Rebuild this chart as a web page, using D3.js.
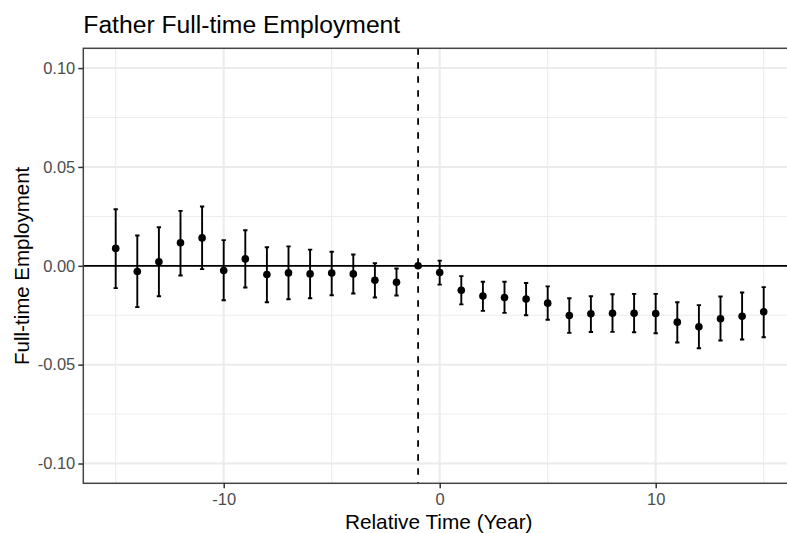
<!DOCTYPE html>
<html>
<head>
<meta charset="utf-8">
<script src="https://cdn.jsdelivr.net/npm/d3@7"></script>
<style>
  html, body { margin: 0; padding: 0; background: #fff; }
  svg { display: block; font-family: "Liberation Sans", Arial, sans-serif; }
</style>
</head>
<body>
<svg id="chart" width="787" height="533"></svg>
<script>
// ---- Data ----
const relTime = [-15,-14,-13,-12,-11,-10,-9,-8,-7,-6,-5,-4,-3,-2,-1,0,1,2,3,4,5,6,7,8,9,10,11,12,13,14,15];
const estimate = [0.0088,-0.0029,0.0020,0.0116,0.0141,-0.0024,0.0035,-0.0044,-0.0036,-0.0041,-0.0037,-0.0041,-0.0073,-0.0083,0,
                  -0.0034,-0.0124,-0.0153,-0.0160,-0.0168,-0.0189,-0.0251,-0.0243,-0.0240,-0.0240,-0.0241,-0.0285,-0.0308,-0.0268,-0.0255,-0.0233];
const ciLow = [-0.0113,-0.0209,-0.0154,-0.0049,-0.0017,-0.0174,-0.0110,-0.0184,-0.0169,-0.0164,-0.0149,-0.0140,-0.0160,-0.0150,0,
               -0.0095,-0.0195,-0.0228,-0.0238,-0.0250,-0.0273,-0.0339,-0.0335,-0.0334,-0.0336,-0.0341,-0.0388,-0.0417,-0.0378,-0.0373,-0.0361];
const ciHigh = [0.0286,0.0153,0.0195,0.0278,0.0300,0.0130,0.0180,0.0094,0.0098,0.0082,0.0071,0.0057,0.0013,-0.0014,0,
                0.0026,-0.0052,-0.0081,-0.0081,-0.0087,-0.0104,-0.0164,-0.0154,-0.0144,-0.0142,-0.0142,-0.0184,-0.0199,-0.0155,-0.0135,-0.0108];
const xMajorTicks = [-10, 0, 10];
const xMinorTicks = [-15, -5, 5, 15];
const yMajorTicks = [-0.10, -0.05, 0.00, 0.05, 0.10];
const yMinorTicks = [-0.075, -0.025, 0.025, 0.075];
const eventLine = -1;
const titleText = "Father Full-time Employment";
const xTitle = "Relative Time (Year)";
const yTitle = "Full-time Employment";

const data = relTime.map((t, i) => ({t, est: estimate[i], lo: ciLow[i], hi: ciHigh[i]}));

// ---- Layout ----
const svg = d3.select("#chart");
const panel = {left: 83.3, right: 796.1, top: 48.3, bottom: 483.3};

const x = d3.scaleLinear().domain([-16.5, 16.5]).range([panel.left, panel.right]);
const y = d3.scaleLinear().domain([-0.11, 0.11]).range([panel.bottom, panel.top]);

svg.append("rect").attr("width", 787).attr("height", 533).attr("fill", "#fff");

const clipId = "panelClip";
svg.append("defs").append("clipPath").attr("id", clipId)
  .append("rect").attr("x", panel.left).attr("y", panel.top)
  .attr("width", panel.right - panel.left).attr("height", panel.bottom - panel.top);

const g = svg.append("g").attr("clip-path", `url(#${clipId})`);

// Grid lines
g.selectAll(".xminor").data(xMinorTicks).join("line")
  .attr("x1", d => x(d)).attr("x2", d => x(d)).attr("y1", panel.top).attr("y2", panel.bottom)
  .attr("stroke", "#EBEBEB").attr("stroke-width", 1);
g.selectAll(".yminor").data(yMinorTicks).join("line")
  .attr("y1", d => y(d)).attr("y2", d => y(d)).attr("x1", panel.left).attr("x2", panel.right)
  .attr("stroke", "#EBEBEB").attr("stroke-width", 1);
g.selectAll(".xmajor").data(xMajorTicks).join("line")
  .attr("x1", d => x(d)).attr("x2", d => x(d)).attr("y1", panel.top).attr("y2", panel.bottom)
  .attr("stroke", "#EBEBEB").attr("stroke-width", 2);
g.selectAll(".ymajor").data(yMajorTicks).join("line")
  .attr("y1", d => y(d)).attr("y2", d => y(d)).attr("x1", panel.left).attr("x2", panel.right)
  .attr("stroke", "#EBEBEB").attr("stroke-width", 2);

// Reference lines
g.append("line")
  .attr("x1", panel.left).attr("x2", panel.right).attr("y1", y(0)).attr("y2", y(0))
  .attr("stroke", "#000").attr("stroke-width", 1.7);
g.append("line")
  .attr("x1", x(eventLine)).attr("x2", x(eventLine)).attr("y1", panel.top).attr("y2", panel.bottom)
  .attr("stroke", "#000").attr("stroke-width", 1.8).attr("stroke-dasharray", "6.5,7.5");

// Error bars
const capW = 0.1;
const eb = g.selectAll(".eb").data(data.filter(d => d.hi !== d.lo)).join("g");
eb.append("line")
  .attr("x1", d => x(d.t)).attr("x2", d => x(d.t))
  .attr("y1", d => y(d.lo)).attr("y2", d => y(d.hi))
  .attr("stroke", "#000").attr("stroke-width", 1.9);
eb.append("line")
  .attr("x1", d => x(d.t - capW)).attr("x2", d => x(d.t + capW))
  .attr("y1", d => y(d.lo)).attr("y2", d => y(d.lo))
  .attr("stroke", "#000").attr("stroke-width", 1.9);
eb.append("line")
  .attr("x1", d => x(d.t - capW)).attr("x2", d => x(d.t + capW))
  .attr("y1", d => y(d.hi)).attr("y2", d => y(d.hi))
  .attr("stroke", "#000").attr("stroke-width", 1.9);

// Points
g.selectAll(".pt").data(data).join("circle")
  .attr("cx", d => x(d.t)).attr("cy", d => y(d.est)).attr("r", 3.8).attr("fill", "#000");

// Panel border
svg.append("rect")
  .attr("x", panel.left).attr("y", panel.top)
  .attr("width", panel.right - panel.left).attr("height", panel.bottom - panel.top)
  .attr("fill", "none").attr("stroke", "#444").attr("stroke-width", 1.5);

// Axes
const hyphen = s => s.replace(/\u2212/g, "-");
const xAxis = svg.append("g").attr("transform", `translate(0,${panel.bottom})`)
  .call(d3.axisBottom(x).tickValues(xMajorTicks).tickSize(5).tickPadding(5)
    .tickFormat(d => hyphen(d3.format("d")(d))));
const yAxis = svg.append("g").attr("transform", `translate(${panel.left},0)`)
  .call(d3.axisLeft(y).tickValues(yMajorTicks).tickSize(5).tickPadding(3)
    .tickFormat(d => hyphen(d3.format(".2f")(d))));
[xAxis, yAxis].forEach(a => {
  a.select(".domain").remove();
  a.selectAll(".tick line").attr("stroke", "#333").attr("stroke-width", 1.5);
  a.selectAll(".tick text").attr("fill", "#4D4D4D").style("font-size", "16.5px")
    .style("font-family", "'Liberation Sans', Arial, sans-serif");
});

// Titles
svg.append("text").attr("x", panel.left).attr("y", 33)
  .style("font-size", "24.7px").attr("fill", "#000").text(titleText);
svg.append("text").attr("x", x(0) - 1).attr("y", 529)
  .attr("text-anchor", "middle").style("font-size", "20.8px").attr("fill", "#000").text(xTitle);
svg.append("text").attr("transform", `translate(28.5,${(panel.top + panel.bottom) / 2}) rotate(-90)`)
  .attr("text-anchor", "middle").style("font-size", "20.5px").attr("fill", "#000").text(yTitle);
</script>
</body>
</html>
